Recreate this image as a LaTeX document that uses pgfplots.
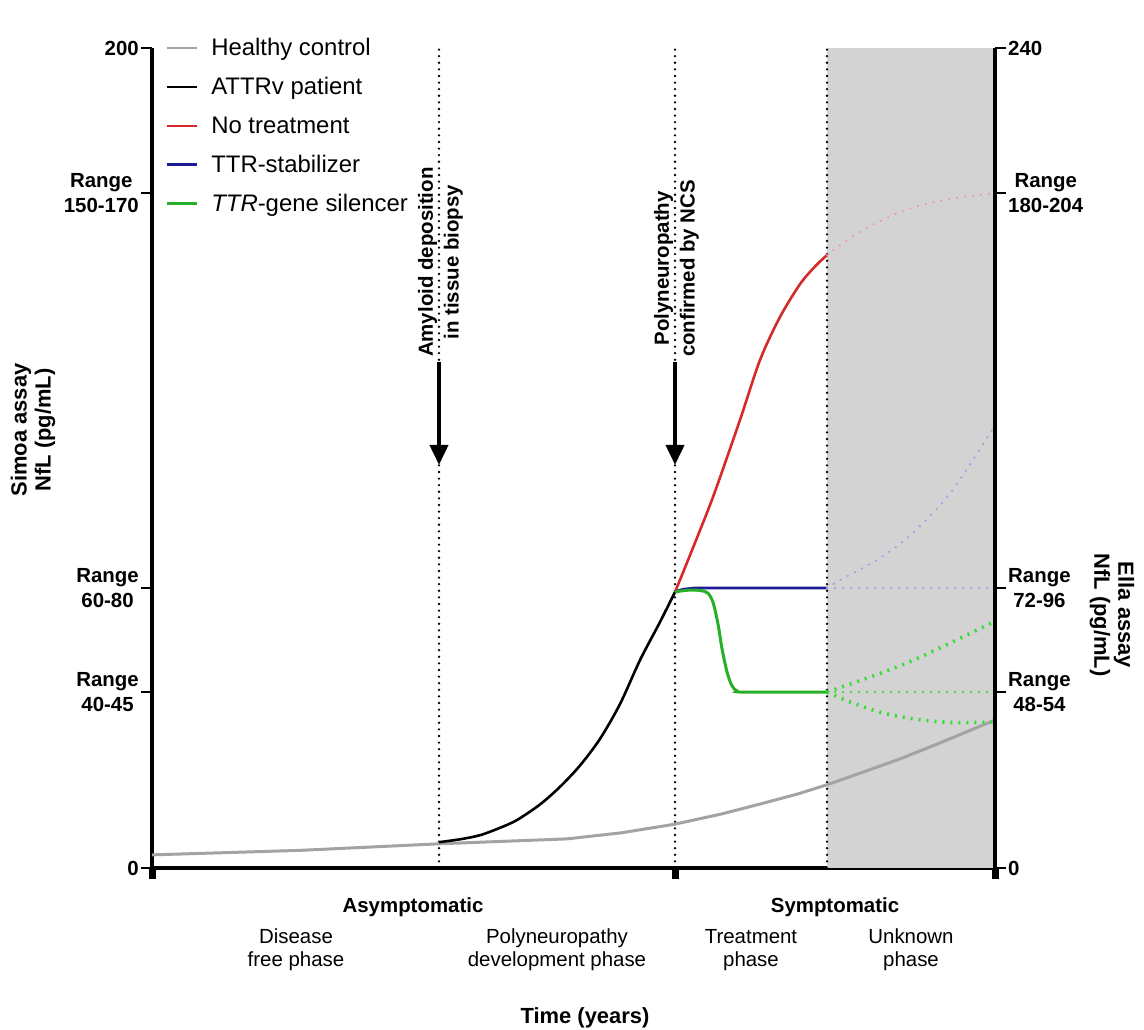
\documentclass[border=0pt]{standalone}
\usepackage{pgfplots}
\pgfplotsset{compat=1.18}
\usetikzlibrary{arrows.meta}
\usepackage{fontspec}
\setmainfont{Liberation Sans}
\definecolor{hc}{HTML}{A3A3A3}
\definecolor{redc}{HTML}{D42A2A}
\definecolor{bluec}{HTML}{1C1C96}
\definecolor{greenc}{HTML}{27B027}
\definecolor{redl}{HTML}{F29A9A}
\definecolor{bluel}{HTML}{9C9CE8}
\definecolor{greenl}{HTML}{33DD33}
\definecolor{shade}{HTML}{D3D3D3}
\newcommand{\lbl}{\bfseries\fontsize{20.5}{25}\selectfont}
\newcommand{\reg}{\fontsize{20.5}{23.5}\selectfont}
\begin{document}
\begin{tikzpicture}[x=1bp,y=1bp]
\path[use as bounding box] (0,0) rectangle (1144,1030);
\begin{axis}[
  at={(152bp,162bp)}, anchor=south west,
  scale only axis, width=843bp, height=820bp,
  xmin=0, xmax=843, ymin=0, ymax=200,
  clip=false,
  axis x line*=bottom, axis y line*=left,
  axis line style={line width=3.5bp, -},
  xtick={0,523,843}, xticklabels={},
  x tick style={line width=7bp, black},
  ytick={0,42.9,68.3,164.6,200},
  yticklabels={0,Range\\40-45,Range\\60-80,Range\\150-170,200},
  y tick style={line width=2.5bp, black},
  tick align=outside, major tick length=11bp,
  yticklabel style={align=center, font=\lbl, inner sep=2bp},
  legend style={draw=none, fill=none, at={(0.012,1.016)}, anchor=north west,
    font=\fontsize{24}{26}\selectfont, row sep=17.3bp,
    nodes={inner sep=1.5bp}},
  legend cell align=left,
  legend image code/.code={\draw[#1, line width=2.5bp] (0bp,0bp) -- (30bp,0bp);},
]
% shaded unknown phase
\addplot[fill=shade, draw=none, forget plot] coordinates {(675,0) (843,0) (843,200) (675,200)} -- cycle;
% vertical dotted lines
\draw[black, line width=2.6bp, dash pattern=on 0bp off 6.6bp, line cap=round] (axis cs:287,0) -- (axis cs:287,200);
\draw[black, line width=2.6bp, dash pattern=on 0bp off 6.6bp, line cap=round] (axis cs:523,0) -- (axis cs:523,200);
\draw[black, line width=2.6bp, dash pattern=on 0bp off 6.6bp, line cap=round] (axis cs:675,0) -- (axis cs:675,200);
% healthy control
\addplot[hc, line width=3bp] coordinates {(0,3.2) (148,4.3) (287,5.9) (415,7.1) (470,8.6) (523,10.7) (570,13.2) (608,15.6) (645,18.0) (675,20.3) (695,22.0) (748,26.6) (788,30.5) (843,36.1)};
\addlegendentry{\hspace*{12bp}Healthy control}
% ATTRv patient
\addplot[black, line width=2.6bp, smooth] coordinates {(287,6.3) (308,7.0) (328,8.0) (348,9.8) (365,11.7) (388,15.5) (408,19.8) (428,25) (448,31.5) (468,40) (488,50.7) (508,60) (523,67.3)};
\addlegendentry{\hspace*{12bp}ATTRv patient}
% no treatment
\addplot[redc, line width=2.6bp, smooth] coordinates {(523,67.3) (538,76.3) (561,90.5) (588,109.3) (608,123.9) (628,134.4) (648,142.4) (663,146.7) (675,149.5)};
\addlegendentry{\hspace*{12bp}No treatment}
% TTR stabilizer
\addplot[bluec, line width=2.8bp, smooth] coordinates {(523,67.3) (530,67.9) (540,68.2) (555,68.3) (675,68.3)};
\addlegendentry{\hspace*{12bp}TTR-stabilizer}
% TTR gene silencer
\addplot[greenc, line width=3bp, smooth] coordinates {(523,67.3) (530,67.6) (540,67.8) (550,67.6) (556,67.0) (561,64.8) (566,59.5) (570,53.5) (575,47.8) (580,44.4) (585,43.2) (592,42.9) (675,42.9)};
\addlegendentry{\hspace*{12bp}\textit{TTR}-gene silencer}
% unknown-phase projections
\addplot[redl, line width=2.4bp, dash pattern=on 0bp off 8bp, line cap=round, smooth, forget plot] coordinates {(675,149.5) (700,154) (730,158) (760,161) (800,163.3) (843,164.6)};
\addplot[bluel, line width=2.4bp, dash pattern=on 0bp off 8bp, line cap=round, forget plot] coordinates {(675,68.3) (843,68.3)};
\addplot[bluel, line width=2.4bp, dash pattern=on 0bp off 8bp, line cap=round, smooth, forget plot] coordinates {(675,68.3) (688,70.2) (728,75.6) (760,81.5) (800,92) (843,108)};
\addplot[greenl, line width=3.6bp, dash pattern=on 2bp off 6bp, smooth, forget plot] coordinates {(675,42.9) (755,50) (843,60.2)};
\addplot[greenl, line width=2.4bp, dash pattern=on 0bp off 8bp, line cap=round, forget plot] coordinates {(675,42.9) (843,42.9)};
\addplot[greenl, line width=3.6bp, dash pattern=on 2bp off 6bp, smooth, forget plot] coordinates {(675,42.9) (698,40.5) (728,38) (758,36.5) (798,35.5) (843,35.6)};
% arrows
\draw[line width=4bp, -{Triangle[width=18bp,length=20bp]}] (axis cs:287,123.4) -- (axis cs:287,98.3);
\draw[line width=4bp, -{Triangle[width=18bp,length=20bp]}] (axis cs:523,123.4) -- (axis cs:523,98.3);
\node[rotate=90, anchor=west, align=center, inner sep=0pt, font=\bfseries\fontsize{20.5}{26}\selectfont] at (axis cs:288.5,124.6) {Amyloid deposition\\in tissue biopsy};
\node[rotate=90, anchor=west, align=center, inner sep=0pt, font=\bfseries\fontsize{20.5}{26}\selectfont] at (axis cs:524.5,124.6) {Polyneuropathy\\confirmed by NCS};
\end{axis}
% right axis
\begin{axis}[
  at={(152bp,162bp)}, anchor=south west,
  scale only axis, width=843bp, height=820bp,
  xmin=0, xmax=843, ymin=0, ymax=240,
  axis x line=none, axis y line*=right,
  axis line style={line width=3.5bp, -},
  ytick={0,51.5,82,197.5,240},
  yticklabels={0,Range\\48-54,Range\\72-96,Range\\180-204,240},
  y tick style={line width=2.5bp, black},
  tick align=outside, major tick length=11bp,
  yticklabel style={align=center, font=\lbl, inner sep=2bp},
]
\end{axis}
% axis titles
\node[rotate=90, align=center, font=\bfseries\fontsize{22}{24}\selectfont] at (33,600) {Simoa assay\\NfL (pg/mL)};
\node[rotate=-90, align=center, font=\bfseries\fontsize{22}{24}\selectfont] at (1112,415) {Ella assay\\NfL (pg/mL)};
% phase labels
\node[font=\lbl] at (413,123) {Asymptomatic};
\node[font=\lbl] at (835,123) {Symptomatic};
\node[align=center, font=\reg] at (296,80) {Disease\\free phase};
\node[align=center, font=\reg] at (557,80) {Polyneuropathy\\development phase};
\node[align=center, font=\reg] at (751,80) {Treatment\\phase};
\node[align=center, font=\reg] at (911,80) {Unknown\\phase};
\node[font=\bfseries\fontsize{22}{26}\selectfont] at (585,12) {Time (years)};
\end{tikzpicture}
\end{document}
